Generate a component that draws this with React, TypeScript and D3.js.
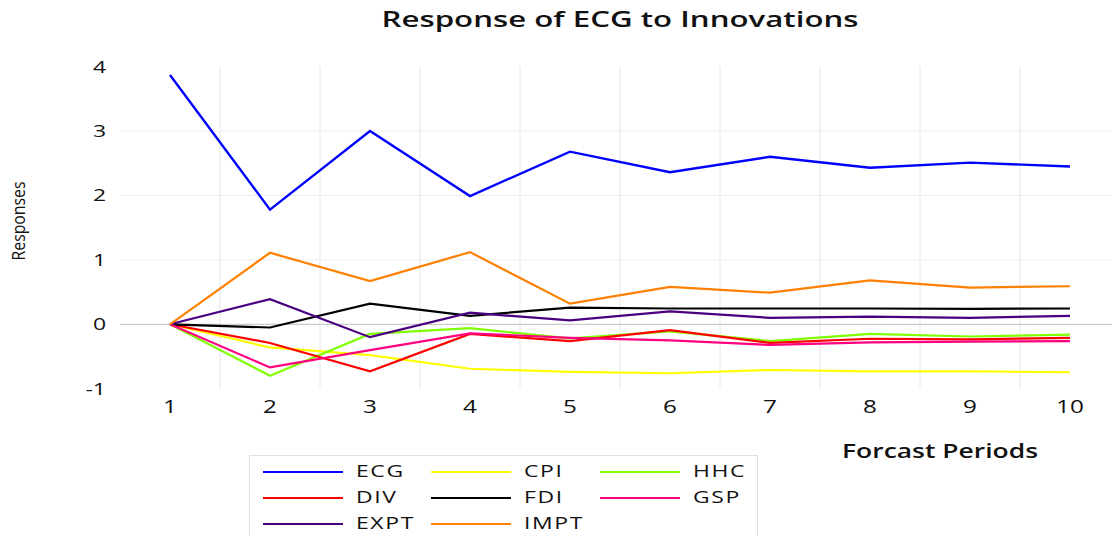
import React from "react";
import * as d3 from "d3";

const periods = [1, 2, 3, 4, 5, 6, 7, 8, 9, 10];
const yTicks = [-1, 0, 1, 2, 3, 4];
const gridValues = [0, 1, 2, 3];

const seriesNames = ["ECG", "CPI", "HHC", "DIV", "FDI", "GSP", "EXPT", "IMPT"];
const seriesColors = ["#0000FF", "#FFFF00", "#80FF00", "#FF0000", "#000000", "#FF0080", "#4B0082", "#FF8000"];

const ECG = [3.87, 1.78, 3.0, 1.99, 2.68, 2.36, 2.6, 2.43, 2.51, 2.45];
const CPI = [0, -0.36, -0.48, -0.69, -0.74, -0.76, -0.71, -0.73, -0.73, -0.745];
const HHC = [0, -0.8, -0.15, -0.06, -0.22, -0.11, -0.26, -0.15, -0.19, -0.16];
const DIV = [0, -0.29, -0.73, -0.15, -0.26, -0.09, -0.29, -0.225, -0.235, -0.21];
const FDI = [0, -0.05, 0.32, 0.13, 0.26, 0.245, 0.245, 0.245, 0.24, 0.245];
const GSP = [0, -0.67, -0.4, -0.14, -0.21, -0.25, -0.32, -0.28, -0.27, -0.26];
const EXPT = [0, 0.39, -0.2, 0.18, 0.06, 0.2, 0.1, 0.12, 0.1, 0.13];
const IMPT = [0, 1.11, 0.67, 1.12, 0.32, 0.58, 0.49, 0.68, 0.57, 0.59];

const seriesValues = [ECG, CPI, HHC, DIV, FDI, GSP, EXPT, IMPT];

const TITLE = "Response of ECG to Innovations";
const X_TITLE = "Forcast Periods";
const Y_TITLE = "Responses";

const W = 1112;
const H = 536;
const SX = 1.35;
const FONT = "'Open Sans', 'DejaVu Sans', sans-serif";

function SText(props: {
  x: number;
  y: number;
  anchor?: string;
  size: number;
  weight?: number | string;
  spacing?: number;
  width?: number;
  children: React.ReactNode;
}) {
  const { x, y, anchor = "start", size, weight = 400, spacing = 0, width, children } = props;
  const extra: any = {};
  if (width) {
    extra.textLength = width / SX;
    extra.lengthAdjust = "spacingAndGlyphs";
  }
  return (
    <text
      transform={`translate(${x},${y}) scale(${SX},1)`}
      textAnchor={anchor}
      fontSize={size}
      fontWeight={weight}
      fontFamily={FONT}
      letterSpacing={spacing}
      fill="#111"
      {...extra}
    >
      {children}
    </text>
  );
}

export default function App() {
  const x = d3.scaleBand<number>().domain(periods).range([120, 1120]);
  const bw = x.bandwidth();
  const cx = (p: number) => (x(p) as number) + bw / 2;
  const y = d3.scaleLinear().domain([-1, 4]).range([388.7, 66.6]);

  const line = d3
    .line<number>()
    .x((_, i) => cx(periods[i]))
    .y((v) => y(v));

  const legendCols = [263, 431, 600];
  const legendRows = [472, 498, 524];

  return (
    <svg
      width={W}
      height={H}
      style={{ position: "absolute", left: 0, top: 0, display: "block", background: "#fff" }}
    >
      <rect x={0} y={0} width={W} height={H} fill="#fff" />
      {periods.slice(1).map((p) => (
        <line
          key={"vg" + p}
          x1={x(p) as number}
          x2={x(p) as number}
          y1={y(4)}
          y2={y(-1)}
          stroke="#e6e6e6"
          strokeWidth={1}
        />
      ))}
      {gridValues.map((v) => (
        <line
          key={"hg" + v}
          x1={120}
          x2={1120}
          y1={y(v)}
          y2={y(v)}
          stroke={v === 0 ? "#cccccc" : "#eeeeee"}
          strokeWidth={v === 0 ? 1.3 : 1}
        />
      ))}
      {yTicks.map((v) => (
        <SText key={"yt" + v} x={106} y={y(v) + 6} anchor="end" size={17}>
          {v < 0 ? "-" + Math.abs(v) : String(v)}
        </SText>
      ))}
      {periods.map((p) => (
        <SText key={"xt" + p} x={cx(p)} y={413} anchor="middle" size={18}>
          {String(p)}
        </SText>
      ))}
      {seriesValues.map((vals, i) => (
        <path
          key={seriesNames[i]}
          d={line(vals) as string}
          fill="none"
          stroke={seriesColors[i]}
          strokeWidth={i === 0 ? 2.4 : 2.2}
          strokeLinejoin="miter"
        />
      ))}
      <SText x={620} y={27} anchor="middle" size={21} weight={600} width={477}>
        {TITLE}
      </SText>
      <SText x={940} y={458} anchor="middle" size={19} weight={600} width={196}>
        {X_TITLE}
      </SText>
      <text
        transform="translate(25,221) scale(1.12,1) rotate(-90)"
        textAnchor="middle"
        fontSize={17}
        fontFamily={FONT}
        textLength={79}
        lengthAdjust="spacingAndGlyphs"
        fill="#111"
      >
        {Y_TITLE}
      </text>
      <rect x={249.5} y={455.5} width={508} height={100} fill="#fff" stroke="#e0e0e0" strokeWidth={1} />
      {seriesNames.map((name, i) => {
        const col = i % 3;
        const row = Math.floor(i / 3);
        const lx = legendCols[col];
        const ly = legendRows[row];
        return (
          <g key={"lg" + name}>
            <line x1={lx} x2={lx + 80} y1={ly} y2={ly} stroke={seriesColors[i]} strokeWidth={2.2} />
            <SText x={lx + 93} y={ly + 5} size={17} spacing={1.2}>
              {name}
            </SText>
          </g>
        );
      })}
    </svg>
  );
}
